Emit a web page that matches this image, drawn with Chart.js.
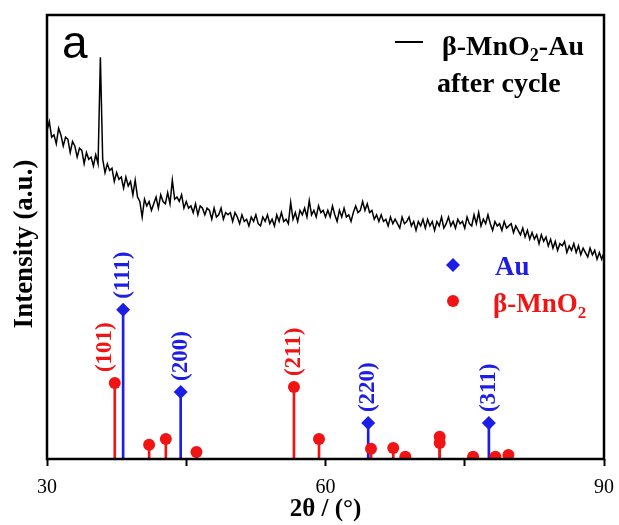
<!DOCTYPE html>
<html>
<head>
<meta charset="utf-8">
<script src="https://cdn.jsdelivr.net/npm/chart.js@4.4.0/dist/chart.umd.min.js"></script>
<style>
  html, body { margin: 0; padding: 0; background: #fff; }
</style>
</head>
<body>
<canvas id="chart" width="619" height="525"></canvas>
<script>
// XRD scan, beta-MnO2-Au after cycle (2theta, intensity a.u.)
const scanX = [
  30, 30.25, 30.5, 30.75, 31, 31.25, 31.5, 31.75, 32, 32.25, 32.5, 32.75,
  33, 33.25, 33.5, 33.75, 34, 34.25, 34.5, 34.75, 35, 35.25, 35.5, 35.75,
  36, 36.25, 36.5, 36.75, 37, 37.25, 37.5, 37.75, 38, 38.25, 38.5, 38.75,
  39, 39.25, 39.5, 39.75, 40, 40.25, 40.5, 40.75, 41, 41.25, 41.5, 41.75,
  42, 42.25, 42.5, 42.75, 43, 43.25, 43.5, 43.75, 44, 44.25, 44.5, 44.75,
  45, 45.25, 45.5, 45.75, 46, 46.25, 46.5, 46.75, 47, 47.25, 47.5, 47.75,
  48, 48.25, 48.5, 48.75, 49, 49.25, 49.5, 49.75, 50, 50.25, 50.5, 50.75,
  51, 51.25, 51.5, 51.75, 52, 52.25, 52.5, 52.75, 53, 53.25, 53.5, 53.75,
  54, 54.25, 54.5, 54.75, 55, 55.25, 55.5, 55.75, 56, 56.25, 56.5, 56.75,
  57, 57.25, 57.5, 57.75, 58, 58.25, 58.5, 58.75, 59, 59.25, 59.5, 59.75,
  60, 60.25, 60.5, 60.75, 61, 61.25, 61.5, 61.75, 62, 62.25, 62.5, 62.75,
  63, 63.25, 63.5, 63.75, 64, 64.25, 64.5, 64.75, 65, 65.25, 65.5, 65.75,
  66, 66.25, 66.5, 66.75, 67, 67.25, 67.5, 67.75, 68, 68.25, 68.5, 68.75,
  69, 69.25, 69.5, 69.75, 70, 70.25, 70.5, 70.75, 71, 71.25, 71.5, 71.75,
  72, 72.25, 72.5, 72.75, 73, 73.25, 73.5, 73.75, 74, 74.25, 74.5, 74.75,
  75, 75.25, 75.5, 75.75, 76, 76.25, 76.5, 76.75, 77, 77.25, 77.5, 77.75,
  78, 78.25, 78.5, 78.75, 79, 79.25, 79.5, 79.75, 80, 80.25, 80.5, 80.75,
  81, 81.25, 81.5, 81.75, 82, 82.25, 82.5, 82.75, 83, 83.25, 83.5, 83.75,
  84, 84.25, 84.5, 84.75, 85, 85.25, 85.5, 85.75, 86, 86.25, 86.5, 86.75,
  87, 87.25, 87.5, 87.75, 88, 88.25, 88.5, 88.75, 89, 89.25, 89.5, 89.75,
  90
];
const scanY = [
  74, 76, 72.5, 73, 71, 74.5, 73, 70.5, 72.5, 72, 69, 71.5,
  70.5, 68, 70, 69.5, 66.5, 69, 67.5, 68, 66, 68.5, 66.5, 90.5,
  67.5, 64.5, 66.5, 65, 65.5, 62.5, 64.5, 63, 63.5, 61, 63.5, 61.5,
  62.5, 59.5, 62.8, 59, 58, 54.5, 58.5, 57, 58, 56, 57.5, 59,
  56.5, 59.5, 58, 57.5, 60, 57.5, 62.8, 58.5, 59, 58, 59.5, 56.5,
  58, 56.5, 57, 55.5, 57.5, 55, 57, 56.5, 55, 56.5, 56, 54,
  56.5, 54.5, 55, 56.5, 54, 55.5, 55, 55.5, 53.5, 55.5, 54.5, 53,
  55, 53.5, 54, 52.5, 54.5, 53.5, 55, 53, 52.5, 54.5, 53.5, 55,
  53, 54, 52.5, 55, 53.5, 55.5, 53.5, 54, 53, 57.8, 54, 55.5,
  53.5, 56, 55, 56.5, 54.5, 58.2, 55, 56, 54.5, 57, 55.5, 56,
  54.5, 56, 54.5, 57, 55, 53.5, 56, 54.5, 56.5, 54.5, 55, 53.5,
  55.5, 57, 55.5, 56, 58, 56, 57.5, 55.5, 56, 54, 55, 53.5,
  55, 53.5, 54, 52.5, 54.5, 53, 54, 53, 52, 54.5, 53, 53.5,
  54.5, 52.5, 53.5, 51.5, 53.5, 52.5, 54, 52, 54, 52.5, 53.5, 51.5,
  53.5, 52.5, 54.5, 52, 53, 54.5, 52.5, 53.5, 52, 54, 53, 53.5,
  52, 54.5, 53, 52.5, 55, 53, 55.5, 52.5, 54, 53, 55, 53,
  51.5, 53.5, 52.5, 53, 51.5, 53.5, 52, 52.5, 53, 51, 52.5, 51.5,
  50.5, 52, 50, 51.5, 49.5, 51, 49.5, 50.5, 48.5, 50.5, 49, 50,
  48, 49.5, 47.5, 49, 47, 48.5, 48, 49, 46.5, 48, 47, 48.5,
  46.5, 48, 46, 47.5, 46.5, 45.5, 47.5, 46, 47, 45, 46.5, 45,
  46.5
];

// reference patterns
const auPos = [38.2, 44.4, 64.6, 77.6];
const auInt = [33.6, 15.1, 8.1, 8.1];
const auHkl = ['(111)', '(200)', '(220)', '(311)'];

const mnPos = [37.3, 41.0, 42.8, 46.1, 56.6, 59.3, 64.9, 67.3, 68.6, 72.3, 72.3, 75.9, 78.3, 79.7];
const mnInt = [17.1, 3.2, 4.5, 1.6, 16.2, 4.5, 2.3, 2.5, 0.5, 5.0, 3.6, 0.5, 0.5, 0.9];
const mnHkl = ['(101)', '', '', '', '(211)', '', '', '', '', '', '', '', '', ''];

const xTicks = [30, 60, 90];

const BLUE = '#1d1de6';
const RED = '#f01414';
const SERIF = '"Liberation Serif", "Times New Roman", serif';

function pts(xs, ys) {
  return xs.map((x, i) => ({ x: x, y: ys[i] }));
}

function textSub(ctx, parts, x, y, size, color) {
  ctx.fillStyle = color;
  ctx.textAlign = 'left';
  ctx.textBaseline = 'alphabetic';
  let cx = x;
  parts.forEach(p => {
    if (p[1]) {
      ctx.font = 'bold ' + Math.round(size * 0.64) + 'px ' + SERIF;
      ctx.fillText(p[0], cx, y + size * 0.22);
    } else {
      ctx.font = 'bold ' + size + 'px ' + SERIF;
      ctx.fillText(p[0], cx, y);
    }
    cx += ctx.measureText(p[0]).width;
  });
}

const decor = {
  id: 'decor',
  afterDatasetsDraw(chart) {
    const ctx = chart.ctx;
    const xs = chart.scales.x, ys = chart.scales.y;
    const a = chart.chartArea;
    ctx.save();

    // frame
    ctx.strokeStyle = '#000';
    ctx.lineWidth = 2.5;
    ctx.strokeRect(a.left, a.top, a.right - a.left, a.bottom - a.top);

    // y title
    ctx.save();
    ctx.translate(25, 244);
    ctx.rotate(-Math.PI / 2);
    ctx.fillStyle = '#000';
    ctx.font = 'bold 27px ' + SERIF;
    ctx.textAlign = 'center';
    ctx.textBaseline = 'middle';
    ctx.fillText('Intensity (a.u.)', 0, 0);
    ctx.restore();

    // hkl labels above the sticks
    ctx.font = 'bold 23px ' + SERIF;
    ctx.textAlign = 'left';
    ctx.textBaseline = 'middle';
    function hkl(pos, val, txt, color, dx) {
      if (!txt) return;
      const px = xs.getPixelForValue(pos) + dx;
      const py = ys.getPixelForValue(val) - 11;
      ctx.save();
      ctx.translate(px, py);
      ctx.rotate(-Math.PI / 2);
      ctx.fillStyle = color;
      ctx.fillText(txt, 0, 0);
      ctx.restore();
    }
    auPos.forEach((p, i) => hkl(p, auInt[i], auHkl[i], BLUE, 0));
    mnPos.forEach((p, i) => hkl(p, mnInt[i], mnHkl[i], RED, mnHkl[i] === '(101)' ? -10 : 0));

    // panel letter
    ctx.fillStyle = '#000';
    ctx.font = '46px "Liberation Sans", Arial, sans-serif';
    ctx.textBaseline = 'alphabetic';
    ctx.fillText('a', 62, 58);

    // curve legend
    ctx.strokeStyle = '#000';
    ctx.lineWidth = 2;
    ctx.beginPath();
    ctx.moveTo(395, 42);
    ctx.lineTo(423, 42);
    ctx.stroke();
    textSub(ctx, [['β-MnO', false], ['2', true], ['-Au', false]], 442, 55, 28, '#000');
    textSub(ctx, [['after cycle', false]], 437, 92, 28, '#000');

    // pattern legend
    ctx.fillStyle = BLUE;
    ctx.beginPath();
    ctx.moveTo(453, 258);
    ctx.lineTo(460, 265);
    ctx.lineTo(453, 272);
    ctx.lineTo(446, 265);
    ctx.closePath();
    ctx.fill();
    textSub(ctx, [['Au', false]], 495, 275, 27, BLUE);

    ctx.fillStyle = RED;
    ctx.beginPath();
    ctx.arc(453, 301, 6, 0, Math.PI * 2);
    ctx.fill();
    textSub(ctx, [['β-MnO', false], ['2', true]], 493, 312, 27, RED);

    ctx.restore();
  }
};

new Chart(document.getElementById('chart'), {
  type: 'line',
  data: {
    datasets: [
      {
        label: 'β-MnO2-Au after cycle',
        data: pts(scanX, scanY),
        borderColor: '#000',
        borderWidth: 1.5,
        pointRadius: 0,
        tension: 0,
        order: 1
      },
      {
        type: 'scatter',
        label: 'Au',
        data: pts(auPos, auInt),
        pointStyle: 'rectRot',
        pointRadius: 7,
        backgroundColor: BLUE,
        borderColor: BLUE,
        borderWidth: 0,
        order: 2
      },
      {
        type: 'scatter',
        label: 'β-MnO2',
        data: pts(mnPos, mnInt),
        pointStyle: 'circle',
        pointRadius: 6,
        backgroundColor: RED,
        borderColor: RED,
        borderWidth: 0,
        order: 3
      },
      {
        type: 'bar',
        label: 'Au sticks',
        data: pts(auPos, auInt),
        backgroundColor: BLUE,
        barThickness: 2,
        grouped: false,
        order: 4
      },
      {
        type: 'bar',
        label: 'MnO2 sticks',
        data: pts(mnPos, mnInt),
        backgroundColor: RED,
        barThickness: 2,
        grouped: false,
        order: 5
      }
    ]
  },
  options: {
    responsive: false,
    animation: false,
    devicePixelRatio: 1,
    layout: { padding: { top: 15, right: 15, left: 0, bottom: 0 } },
    plugins: {
      legend: { display: false },
      tooltip: { enabled: false }
    },
    scales: {
      x: {
        type: 'linear',
        min: 30,
        max: 90,
        offset: false,
        afterFit(scale) {
          scale.height = 66;
          scale.paddingLeft = 0;
          scale.paddingRight = 0;
        },
        ticks: {
          stepSize: 15,
          autoSkip: false,
          maxRotation: 0,
          padding: 10,
          color: '#000',
          font: { family: SERIF, size: 20 },
          callback: v => (xTicks.includes(v) ? v : '')
        },
        grid: {
          offset: false,
          drawOnChartArea: false,
          drawTicks: true,
          tickLength: 7,
          tickWidth: 2,
          tickColor: '#000'
        },
        border: { display: false },
        title: {
          display: true,
          text: '2θ / (°)',
          color: '#000',
          font: { family: SERIF, size: 25, weight: 'bold' },
          padding: { top: 0, bottom: 0 }
        }
      },
      y: {
        min: 0,
        max: 100,
        afterFit(scale) {
          scale.width = 47;
          scale.paddingTop = 0;
          scale.paddingBottom = 0;
        },
        ticks: { display: false },
        grid: { display: false },
        border: { display: false }
      }
    }
  },
  plugins: [decor]
});
</script>
</body>
</html>
